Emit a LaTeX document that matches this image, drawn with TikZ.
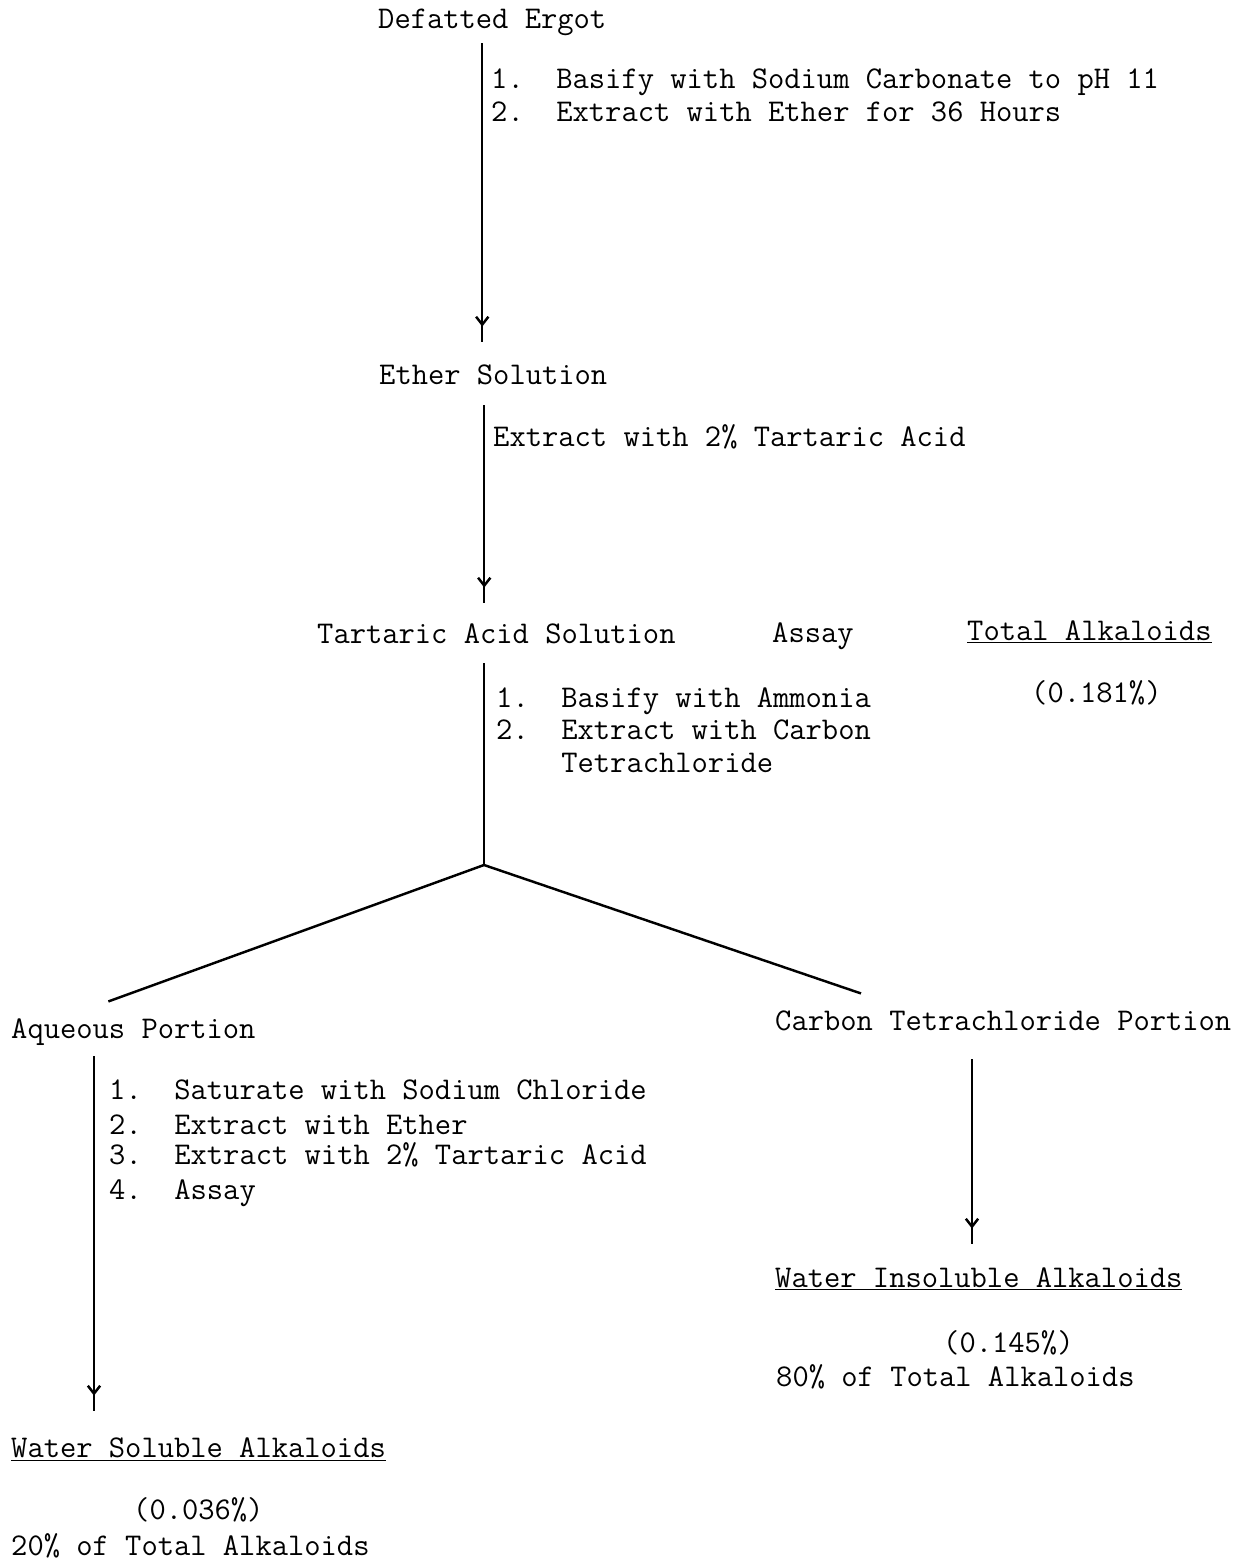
\documentclass[tikz,border=0pt]{standalone}
\usetikzlibrary{positioning, calc, arrows.meta, decorations.markings}

\begin{document}
\begin{tikzpicture}[x=0.02cm, y=-0.02cm, line width=1.4pt]
            \tikzset{
                txt/.style={font=\ttfamily\fontsize{18}{20}\selectfont, inner sep=0pt, anchor=base west, text height=11pt, text depth=4pt}, % typewriter text
                flow/.style={postaction={decorate}, decoration={markings, mark=at position -9pt with {\arrow{Straight Barb[length=4.5pt,width=7pt]}}}}, % Y barb a bit before the end
            }
            \useasboundingbox (0,0) rectangle (1240,1564);

            \node[txt] (ergot) at (377,29) {Defatted Ergot};
            \node[txt] (s1a) at (490,89) {1.~~Basify with Sodium Carbonate to pH 11};
            \node[txt] (s1b) at (490,122) {2.~~Extract with Ether for 36 Hours};

            \node[txt] (ether) at (378,384) {Ether Solution};
            \node[txt] (s2) at (492,446) {Extract with 2\% Tartaric Acid};

            \node[txt] (tartaric) at (316,643) {Tartaric Acid Solution};
            \node[txt] (assay) at (771,642) {Assay};
            \node[txt] (total) at (966,640) {\underline{Total Alkaloids}};
            \node[txt] (totalval) at (1030,702) {(0.181\%)};
            \node[txt] (s3a) at (495,707) {1.~~Basify with Ammonia};
            \node[txt] (s3b) at (495,739) {2.~~Extract with Carbon};
            \node[txt] (s3c) at (495,772) {~~~~Tetrachloride};
            \coordinate (fork) at (484,865);

            \node[txt] (aqueous) at (10,1038) {Aqueous Portion};
            \node[txt] (ccl4) at (774,1030) {Carbon Tetrachloride Portion};
            \node[txt] (s4a) at (108,1099) {1.~~Saturate with Sodium Chloride};
            \node[txt] (s4b) at (108,1134) {2.~~Extract with Ether};
            \node[txt] (s4c) at (108,1164) {3.~~Extract with 2\% Tartaric Acid};
            \node[txt] (s4d) at (108,1199) {4.~~Assay};

            \node[txt] (insol) at (774,1287) {\underline{Water Insoluble Alkaloids}};
            \node[txt] (insolval) at (942,1352) {(0.145\%)};
            \node[txt] (insolpct) at (775,1386) {80\% of Total Alkaloids};

            \node[txt] (sol) at (10,1457) {\underline{Water Soluble Alkaloids}};
            \node[txt] (solval) at (132,1519) {(0.036\%)};
            \node[txt] (solpct) at (10,1555) {20\% of Total Alkaloids};

            \draw[flow] ($(ergot.south)+(-10,6)$) -- ($(ergot.south |- ether.north)+(-10,-21)$);
            \draw[flow] ($(ether.south)+(-9,13)$) -- ($(ether.south |- tartaric.north)+(-9,-19)$);
            \draw ($(tartaric.south -| fork)+(0,12)$) -- (fork);
            \draw (fork) -- ($(aqueous.north)+(-25,-16)$);
            \draw (fork) -- ($(ccl4.north west)+(87,-16)$);
            \draw[flow] ($(aqueous.south west)+(84,10)$) -- ($(aqueous.south west |- sol.north)+(84,-25)$);
            \draw[flow] ($(ccl4.south west)+(198,21)$) -- ($(ccl4.south west |- insol.north)+(198,-22)$);
        \end{tikzpicture}
\end{document}
